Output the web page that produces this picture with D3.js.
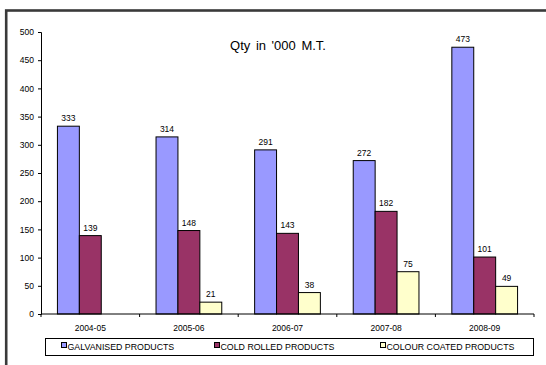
<!DOCTYPE html>
<html>
<head>
<meta charset="utf-8">
<script src="https://cdn.jsdelivr.net/npm/d3@7"></script>
<style>
  html, body { margin: 0; padding: 0; background: #fff; }
  svg { display: block; }
  text { font-family: "Liberation Sans", Arial, sans-serif; fill: #000; }
</style>
</head>
<body>
<svg id="chart" width="546" height="365"></svg>
<script>
// Production quantities by year, in thousand metric tonnes
const years = ["2004-05", "2005-06", "2006-07", "2007-08", "2008-09"];
const seriesNames = ["GALVANISED PRODUCTS", "COLD ROLLED PRODUCTS", "COLOUR COATED PRODUCTS"];
const galvanised = [333, 314, 291, 272, 473];
const coldRolled = [139, 148, 143, 182, 101];
const colourCoated = [null, 21, 38, 75, 49];
const yTicks = [0, 50, 100, 150, 200, 250, 300, 350, 400, 450, 500];
const colors = ["#9999FF", "#993366", "#FFFFCC"];

const series = [galvanised, coldRolled, colourCoated];

const svg = d3.select("#chart");

// outer frame
svg.append("rect")
  .attr("x", 6.2).attr("y", 10.5)
  .attr("width", 560).attr("height", 380)
  .attr("fill", "none")
  .attr("stroke", "#3a3a3a")
  .attr("stroke-width", 2.6);

const plot = { left: 41, right: 534, top: 32, bottom: 314 };

const x = d3.scaleBand().domain(years).range([plot.left, plot.right]).paddingInner(0).paddingOuter(0);
// bars occupy 3/4.5 of each category, centred (gap width 150%)
const barW = x.bandwidth() / 4.5;
const y = d3.scaleLinear().domain([0, 500]).range([plot.bottom, plot.top]);

// title
svg.append("text")
  .attr("x", 278).attr("y", 50)
  .attr("text-anchor", "middle")
  .style("font-family", "'Liberation Sans Narrow', 'Liberation Sans', Arial, sans-serif")
  .style("font-stretch", "condensed")
  .style("font-size", "13px")
  .style("word-spacing", "2px")
  .text("Qty in '000 M.T.");

// bars
series.forEach((vals, si) => {
  const g = svg.append("g");
  const data = years.map((yr, i) => ({ yr, v: vals[i] })).filter(d => d.v != null);
  g.selectAll("rect").data(data).join("rect")
    .attr("x", d => x(d.yr) + 0.75 * barW + si * barW)
    .attr("y", d => y(d.v))
    .attr("width", barW)
    .attr("height", d => y(0) - y(d.v))
    .attr("fill", colors[si])
    .attr("stroke", "#000")
    .attr("stroke-width", 1);
  g.selectAll("text").data(data).join("text")
    .attr("x", d => x(d.yr) + 0.75 * barW + si * barW + barW / 2)
    .attr("y", d => y(d.v) - 5)
    .attr("text-anchor", "middle")
    .style("font-size", "8.5px")
    .text(d => d.v);
});

// y axis
const yAxis = d3.axisLeft(y).tickValues(yTicks).tickSize(3).tickPadding(4);
const gy = svg.append("g").attr("transform", `translate(${plot.left},0)`).call(yAxis);
gy.select(".domain").attr("stroke", "#000");
gy.selectAll(".tick line").attr("stroke", "#000");
gy.selectAll(".tick text").style("font-size", "8.5px").style("font-family", "'Liberation Sans', Arial, sans-serif");

// x axis with ticks on category boundaries
const gx = svg.append("g").attr("transform", `translate(0,${plot.bottom})`);
gx.append("line")
  .attr("x1", plot.left).attr("x2", plot.right)
  .attr("stroke", "#000");
const bounds = years.map(yr => x(yr)).concat([plot.right]);
gx.selectAll("line.tk").data(bounds).join("line")
  .attr("class", "tk")
  .attr("x1", d => d).attr("x2", d => d)
  .attr("y1", 0).attr("y2", 3)
  .attr("stroke", "#000");
gx.selectAll("text").data(years).join("text")
  .attr("x", d => x(d) + x.bandwidth() / 2)
  .attr("y", 17)
  .attr("text-anchor", "middle")
  .style("font-size", "8.5px")
  .text(d => d);

// legend
const legend = svg.append("g");
legend.append("rect")
  .attr("x", 45.5).attr("y", 338.5)
  .attr("width", 488).attr("height", 17)
  .attr("fill", "#fff").attr("stroke", "#000").attr("stroke-width", 1);
const legendX = [61, 214, 380];
seriesNames.forEach((name, i) => {
  legend.append("rect")
    .attr("x", legendX[i] + 0.5).attr("y", 342.5)
    .attr("width", 5).attr("height", 5)
    .attr("fill", colors[i]).attr("stroke", "#000").attr("stroke-width", 1);
  legend.append("text")
    .attr("x", legendX[i] + 6.5).attr("y", 349.5)
    .style("font-size", "8.8px")
    .text(name);
});
</script>
</body>
</html>
